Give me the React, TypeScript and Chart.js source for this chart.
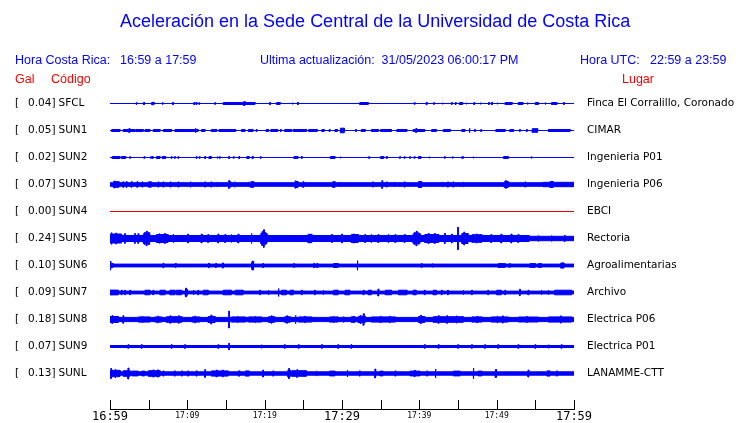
import React, { useEffect, useRef } from 'react';
import { Chart, registerables } from 'chart.js';

Chart.register(...registerables);

// ---------------- data ----------------
const TITLE = 'Aceleración en la Sede Central de la Universidad de Costa Rica';
const HEADER_LOCAL = ['Hora Costa Rica:', '16:59 a 17:59'];
const HEADER_UPDATE = 'Ultima actualización:  31/05/2023 06:00:17 PM';
const HEADER_UTC = ['Hora UTC:', '22:59 a 23:59'];
const COLUMN_HEADS = ['Gal', 'Código', 'Lugar'];

const stationCodes = ['SFCL', 'SUN1', 'SUN2', 'SUN3', 'SUN4', 'SUN5', 'SUN6', 'SUN7', 'SUN8', 'SUN9', 'SUNL'];
const peakGal = ['0.04', '0.05', '0.02', '0.07', '0.00', '0.24', '0.10', '0.09', '0.18', '0.07', '0.13'];
const places = [
  'Finca El Corralillo, Coronado', 'CIMAR', 'Ingenieria P01', 'Ingenieria P06', 'EBCI', 'Rectoria',
  'Agroalimentarias', 'Archivo', 'Electrica P06', 'Electrica P01', 'LANAMME-CTT',
];

// time axis: minutes after 16:59
const tickMinutes = [0, 5, 10, 15, 20, 25, 30, 35, 40, 45, 50, 55, 60];
const tickLabels = ['16:59', '', '17:09', '', '17:19', '', '17:29', '', '17:39', '', '17:49', '', '17:59'];
const majorLabels = ['16:59', '17:29', '17:59'];

// trace envelopes: steady half-amplitude, then events [startMin, endMin, halfAmplitude]
type Ev = [number, number, number];
const baseAmp = [0, 0, 0, 1.8, 0, 2.2, 1.4, 1.4, 2.1, 1.0, 1.7];

const sfclEv: Ev[] = [
  [3.45, 3.45, 0.8], [4.4, 4.4, 1.2], [5.4, 5.7, 1.2], [6.8, 6.8, 1.2], [8.15, 8.15, 1.2], [10.9, 10.9, 1.2],
  [11.2, 11.2, 1.0], [11.55, 11.55, 0.8], [13.6, 13.6, 0.8], [14.65, 18.75, 1.0], [17.3, 17.45, 2.0],
  [20.7, 20.7, 1.2], [21.55, 22.0, 1.0], [23.6, 23.6, 0.8], [24.3, 24.3, 1.2], [32.3, 33.4, 1.0],
  [39.4, 39.4, 0.8], [40.9, 41.0, 1.2], [41.9, 41.9, 0.8], [43.0, 43.0, 0.8], [44.2, 44.2, 1.0],
  [44.7, 44.7, 1.0], [45.2, 45.6, 1.0], [46.1, 46.1, 0.8], [47.1, 47.1, 1.0], [47.9, 47.9, 0.8],
  [49.0, 49.0, 1.0], [49.4, 49.4, 1.2], [50.1, 50.1, 0.8], [51.1, 52.0, 1.0], [52.8, 53.4, 1.0],
  [54.0, 54.0, 1.0], [55.0, 55.4, 1.0], [56.3, 56.3, 1.0], [57.1, 57.8, 1.0], [58.7, 58.7, 1.0],
];
const sun1Ev: Ev[] = [
  [0.22, 1.29, 1.0], [1.72, 3.23, 1.0], [2.5, 2.5, 2.0], [3.36, 4.31, 1.0], [4.53, 5.17, 1.0], [5.6, 6.47, 1.0],
  [6.9, 7.97, 1.0], [8.4, 11.4, 1.0], [11.07, 11.07, 2.2], [11.85, 12.28, 1.0], [13.1, 13.8, 1.0],
  [14.1, 16.25, 1.0], [17.0, 17.45, 1.0], [17.9, 18.5, 1.0], [18.96, 18.96, 1.0], [20.2, 20.5, 1.0],
  [20.8, 21.7, 1.0], [22.1, 22.1, 1.0], [22.6, 23.5, 1.0], [23.7, 25.4, 1.0], [25.7, 26.8, 1.0],
  [27.4, 27.7, 1.0], [28.4, 28.4, 1.0], [29.1, 29.4, 1.0], [29.8, 30.3, 2.3], [31.8, 31.8, 1.0],
  [32.5, 33.0, 1.0], [33.8, 34.7, 1.0], [35.0, 36.4, 1.0], [37.1, 38.4, 1.0], [39.2, 40.7, 1.0],
  [39.6, 39.6, 2.0], [41.6, 42.2, 1.0], [43.1, 44.0, 1.0], [45.5, 45.9, 1.0], [46.5, 46.5, 2.2],
  [47.2, 47.2, 1.0], [48.0, 48.0, 1.0], [49.9, 51.1, 1.0], [51.7, 52.2, 1.0], [53.0, 53.0, 1.0],
  [53.9, 53.9, 1.0], [54.6, 55.3, 1.8], [56.7, 59.5, 1.0],
];
const sun2Ev: Ev[] = [
  [0.3, 1.29, 1.0], [1.51, 2.03, 1.0], [2.6, 2.6, 0.8], [4.44, 4.44, 0.8], [5.3, 5.3, 0.8], [5.52, 5.52, 1.0],
  [6.03, 6.47, 1.0], [6.77, 7.2, 1.0], [7.97, 7.97, 0.8], [8.4, 8.4, 0.8], [8.84, 8.84, 0.8], [11.2, 11.2, 0.8],
  [11.6, 11.6, 0.8], [12.3, 12.3, 1.0], [12.8, 13.1, 1.0], [13.9, 13.9, 1.0], [14.2, 14.2, 0.8],
  [15.4, 15.4, 1.0], [16.0, 16.0, 0.8], [16.7, 16.7, 1.0], [17.7, 18.0, 1.0], [18.45, 18.45, 1.2],
  [19.5, 19.5, 0.8], [23.8, 24.3, 1.0], [24.8, 24.8, 1.0], [28.5, 29.1, 1.0], [29.8, 29.8, 0.8],
  [33.5, 33.5, 0.8], [35.0, 35.4, 1.0], [35.8, 35.8, 1.0], [37.5, 37.5, 0.8], [38.1, 38.1, 0.8],
  [38.8, 38.8, 0.8], [39.4, 39.4, 0.8], [39.9, 40.2, 1.0], [41.3, 41.3, 0.8], [43.3, 43.3, 0.8],
  [44.3, 44.3, 1.0], [45.5, 45.7, 0.8], [47.0, 47.0, 0.8], [50.9, 51.5, 1.0], [54.5, 54.5, 1.0],
];
const sun3Ev: Ev[] = [
  [0.43, 1.16, 2.8], [0.6, 0.6, 3.5], [1.72, 1.72, 2.8], [2.15, 2.15, 2.8], [2.8, 2.8, 2.8], [3.53, 3.53, 2.8],
  [4.18, 4.18, 2.6], [4.96, 5.39, 2.6], [5.1, 5.1, 3.2], [6.25, 6.25, 2.6], [6.9, 6.9, 2.6], [7.84, 7.84, 2.6],
  [8.84, 8.84, 2.6], [10.4, 10.4, 2.8], [12.3, 12.3, 2.6], [13.1, 13.1, 2.6], [13.9, 13.9, 2.6],
  [15.3, 15.6, 2.8], [15.4, 15.4, 3.8], [16.1, 16.1, 2.8], [17.9, 17.9, 2.6], [18.2, 18.6, 2.8],
  [23.9, 24.3, 3.0], [24.0, 24.0, 4.0], [25.0, 25.0, 2.8], [28.8, 29.1, 2.8], [29.8, 29.8, 2.6],
  [34.0, 34.0, 2.6], [35.2, 35.2, 3.8], [35.8, 35.8, 2.6], [36.8, 36.8, 2.6], [38.1, 38.1, 2.6],
  [39.9, 40.3, 3.0], [43.0, 43.0, 2.6], [43.7, 43.7, 2.6], [44.4, 44.4, 2.6], [45.7, 45.7, 2.6],
  [51.0, 51.5, 3.0], [51.2, 51.2, 3.8], [53.7, 53.7, 2.6], [56.9, 57.3, 3.0], [56.0, 60, 2.2],
];
const sun5Ev: Ev[] = [
  [0, 54.2, 3.0], [0, 1.5, 4.5], [0.2, 0.2, 6.0], [0.8, 0.8, 5.5], [1.94, 1.94, 4.8], [3.23, 3.23, 4.8],
  [3.66, 3.66, 4.8], [4.31, 5.17, 4.8], [4.5, 4.5, 6.0], [4.7, 4.8, 7.3], [5.0, 5.0, 6.0], [6.0, 7.5, 4.0],
  [6.4, 6.4, 5.0], [7.1, 7.1, 5.0], [8.2, 8.2, 4.5], [10.1, 10.1, 4.5], [11.85, 11.85, 4.5],
  [12.7, 12.7, 4.0], [14.0, 14.0, 4.5], [14.9, 14.9, 4.0], [15.7, 15.7, 4.0], [16.6, 16.6, 4.5],
  [18.3, 18.3, 5.0], [19.5, 20.3, 5.0], [19.7, 19.7, 7.0], [19.85, 19.95, 8.8], [20.1, 20.1, 6.5],
  [25.6, 26.1, 4.2], [28.7, 28.7, 4.0], [30.0, 30.0, 4.5], [31.2, 32.1, 4.0], [31.5, 31.5, 4.8],
  [33.0, 33.0, 4.0], [33.8, 33.8, 4.5], [34.7, 34.7, 4.0], [36.0, 36.0, 4.5], [36.9, 36.9, 4.0],
  [38.1, 38.1, 4.0], [39.2, 40.1, 4.8], [39.4, 39.4, 6.0], [39.6, 39.7, 7.3], [39.9, 39.9, 6.0],
  [40.7, 42.5, 4.0], [41.2, 41.2, 5.0], [42.0, 42.0, 5.0], [43.3, 43.3, 5.0], [44.2, 44.2, 4.5],
  [45.0, 45.0, 11.2], [45.5, 46.3, 5.0], [45.8, 45.8, 6.5], [46.8, 48.1, 3.8], [47.4, 47.4, 4.8],
  [49.3, 49.3, 4.0], [50.6, 50.6, 4.5], [51.9, 51.9, 4.5], [52.8, 52.8, 4.0], [55.4, 55.4, 3.0],
  [57.1, 57.1, 3.0], [58.8, 58.8, 3.0],
];
const sun6Ev: Ev[] = [
  [0, 0.1, 4.5], [0.1, 0.4, 2.0], [6.9, 6.9, 2.2], [8.5, 8.5, 2.0], [12.8, 12.8, 2.2], [13.7, 13.7, 2.0],
  [14.6, 14.6, 2.6], [18.3, 18.6, 3.2], [18.45, 18.45, 4.5], [19.8, 19.8, 2.0], [23.8, 23.8, 2.0],
  [26.4, 26.4, 2.2], [26.8, 26.8, 2.2], [28.9, 29.5, 2.0], [32.0, 32.0, 4.8], [40.3, 40.3, 1.9],
  [41.7, 41.7, 1.9], [50.2, 51.1, 1.9], [51.7, 51.7, 1.9], [54.3, 55.0, 1.9], [55.4, 55.8, 1.9],
  [58.3, 58.7, 2.6],
];
const sun7Ev: Ev[] = [
  [0, 1.08, 2.4], [1.51, 1.51, 2.3], [1.94, 1.94, 2.3], [2.6, 2.6, 2.3], [4.53, 5.17, 2.3], [5.6, 5.6, 2.3],
  [6.47, 7.11, 2.3], [7.76, 8.4, 2.3], [8.6, 9.27, 2.3], [9.7, 10.0, 3.0], [9.85, 9.85, 4.3],
  [10.8, 10.8, 2.3], [11.4, 11.4, 2.3], [12.07, 12.7, 2.3], [14.65, 15.7, 2.3], [16.2, 17.2, 2.3],
  [19.4, 19.4, 2.3], [20.5, 20.5, 2.3], [21.8, 21.8, 4.0], [22.2, 22.8, 2.3], [23.3, 23.7, 2.3],
  [24.8, 24.8, 2.3], [26.5, 26.5, 2.3], [27.6, 27.6, 2.3], [28.9, 29.5, 2.3], [30.4, 31.0, 2.3],
  [32.8, 32.8, 2.3], [33.4, 33.8, 2.3], [34.7, 34.7, 3.5], [35.6, 36.4, 2.3], [37.3, 38.4, 2.3],
  [39.2, 39.6, 2.3], [40.7, 40.7, 2.3], [41.8, 42.2, 2.3], [42.9, 42.9, 2.3], [43.7, 43.7, 2.3],
  [45.7, 45.7, 2.3], [46.8, 46.8, 2.3], [48.9, 48.9, 2.3], [50.0, 50.6, 2.3], [51.1, 51.1, 2.3],
  [53.0, 53.0, 3.2], [54.1, 54.1, 2.3], [55.8, 55.8, 2.3], [56.7, 56.7, 2.3], [57.5, 59.7, 2.3],
];
const sun8Ev: Ev[] = [
  [0, 1.08, 3.0], [0.3, 0.3, 3.8], [1.72, 1.72, 3.7], [3.66, 5.17, 2.6], [4.2, 4.2, 3.4], [5.8, 6.7, 2.6],
  [6.2, 6.2, 3.4], [7.3, 9.3, 2.8], [7.8, 7.8, 3.7], [8.9, 8.9, 3.7], [10.6, 11.6, 2.6], [11.0, 11.0, 3.4],
  [12.7, 13.6, 3.0], [13.1, 13.1, 4.5], [15.4, 15.4, 8.5], [15.7, 17.5, 2.6], [16.5, 16.5, 3.4],
  [17.9, 19.6, 2.6], [18.8, 18.8, 3.4], [20.5, 21.3, 2.8], [20.9, 20.9, 3.7], [22.6, 23.3, 2.8],
  [22.9, 22.9, 3.7], [24.0, 24.0, 4.2], [24.4, 26.1, 2.6], [25.2, 25.2, 3.2], [28.4, 29.5, 2.6],
  [28.9, 28.9, 3.5], [30.2, 30.2, 3.0], [31.2, 31.7, 2.8], [31.5, 31.5, 3.5], [32.1, 33.0, 3.2],
  [32.4, 32.4, 4.5], [32.8, 32.8, 5.8], [33.8, 36.9, 2.6], [35.0, 35.0, 3.2], [36.2, 36.2, 3.2],
  [39.9, 40.7, 3.0], [40.2, 40.2, 4.2], [41.8, 45.7, 2.8], [42.5, 42.5, 3.8], [43.6, 43.6, 3.8],
  [44.8, 44.8, 3.8], [46.8, 48.1, 2.6], [47.5, 47.5, 3.2], [49.3, 51.5, 2.6], [50.1, 50.1, 3.6],
  [50.8, 50.8, 3.6], [52.8, 55.4, 2.5], [53.9, 53.9, 3.0], [56.7, 59.7, 2.6], [58.3, 58.3, 3.6],
];
const sun9Ev: Ev[] = [
  [2.37, 2.37, 1.8], [4.1, 4.1, 1.8], [7.97, 7.97, 1.8], [9.7, 9.7, 1.8], [14.0, 14.0, 1.8], [15.4, 15.4, 3.2],
  [19.6, 19.6, 1.8], [22.6, 22.6, 1.8], [24.4, 24.4, 1.8], [27.4, 27.4, 1.8], [29.5, 29.5, 1.8],
  [31.2, 31.2, 1.8], [40.7, 40.7, 1.8], [42.5, 42.5, 1.8], [45.0, 45.0, 1.8], [46.8, 46.8, 1.8],
  [48.5, 48.5, 1.8], [50.2, 50.2, 1.8], [52.8, 52.8, 1.8], [55.0, 55.0, 1.8], [56.7, 56.7, 1.8],
  [58.4, 58.4, 1.8],
];
const sunlEv: Ev[] = [
  [0, 1.29, 3.2], [0.15, 0.15, 5.0], [0.7, 0.7, 4.5], [1.72, 2.6, 2.8], [2.37, 2.37, 5.5], [2.8, 3.66, 2.4],
  [4.1, 4.5, 2.4], [4.96, 6.47, 2.8], [5.6, 5.6, 3.6], [6.2, 6.2, 3.6], [6.9, 6.9, 2.6], [8.4, 8.4, 2.6],
  [9.3, 9.3, 2.6], [10.1, 10.1, 2.6], [11.2, 11.2, 2.6], [12.3, 12.3, 3.8], [13.1, 15.3, 2.6],
  [13.8, 13.8, 3.5], [14.6, 14.6, 3.5], [16.6, 16.8, 2.6], [17.5, 18.0, 2.6], [19.8, 19.8, 3.5],
  [21.1, 21.1, 2.6], [23.0, 23.3, 3.5], [23.15, 23.15, 5.0], [23.5, 25.4, 2.8], [24.2, 24.2, 3.8],
  [26.7, 26.7, 2.6], [28.4, 29.1, 2.4], [30.7, 30.7, 3.5], [32.3, 32.3, 2.6], [34.3, 34.3, 4.5],
  [34.9, 35.3, 2.4], [36.9, 36.9, 2.6], [38.8, 40.1, 2.4], [39.4, 39.4, 3.2], [41.0, 41.0, 2.6],
  [42.1, 42.1, 4.5], [44.4, 45.3, 2.4], [47.0, 47.0, 5.5], [47.6, 48.1, 2.4], [49.8, 50.0, 3.2],
  [49.9, 49.9, 4.0], [54.1, 54.1, 3.5], [56.5, 56.9, 2.6], [57.8, 57.8, 2.6],
];
const traceEvents: (Ev[] | null)[] = [
  sfclEv, sun1Ev, sun2Ev, sun3Ev, null, sun5Ev, sun6Ev, sun7Ev, sun8Ev, sun9Ev, sunlEv,
];

// ---------------- helpers ----------------
const SPAN_MIN = 60;
const AMP_PER_TRACE = 27; // amplitude units per trace slot
const SPIKE_WIDTH = 0.1;
const BLUE = '#0000ff';
const RED = '#ff0000';
const TRACE_RED = '#dd0000';

function envelope(base: number, evs: Ev[]) {
  const spans = evs.map(([a, b, amp]) =>
    b > a ? [a, b, amp] : [a - SPIKE_WIDTH / 2, a + SPIKE_WIDTH / 2, amp],
  ).map(([a, b, amp]) => [Math.max(0, a), Math.min(SPAN_MIN, b), amp]);
  const bounds = Array.from(new Set([0, SPAN_MIN, ...spans.flatMap((s) => [s[0], s[1]])])).sort((p, q) => p - q);
  const pts: { x: number; a: number }[] = [];
  for (let k = 0; k < bounds.length - 1; k++) {
    const a = bounds[k];
    const b = bounds[k + 1];
    if (b - a < 1e-9) continue;
    const m = (a + b) / 2;
    let amp = base;
    for (const s of spans) if (m >= s[0] && m <= s[1]) amp = Math.max(amp, s[2]);
    pts.push({ x: a, a: amp }, { x: b, a: amp });
  }
  return pts;
}

function buildDatasets() {
  const ds: any[] = [];
  traceEvents.forEach((evs, i) => {
    const center = -i;
    if (!evs) {
      ds.push({
        data: [{ x: 0, y: center }, { x: SPAN_MIN, y: center }],
        borderColor: TRACE_RED, borderWidth: 1, pointRadius: 0, fill: false,
      });
      return;
    }
    const env = envelope(baseAmp[i], evs);
    ds.push({
      data: env.map((p) => ({ x: p.x, y: center + p.a / AMP_PER_TRACE })),
      borderColor: BLUE, backgroundColor: BLUE, borderWidth: 1, pointRadius: 0, fill: '+1',
    });
    ds.push({
      data: env.map((p) => ({ x: p.x, y: center - p.a / AMP_PER_TRACE })),
      borderColor: BLUE, backgroundColor: BLUE, borderWidth: 1, pointRadius: 0, fill: false,
    });
  });
  return ds;
}

const textPlugin = {
  id: 'seismoText',
  afterDraw(chart: any) {
    const { ctx } = chart;
    const xs = chart.scales.x;
    const ys = chart.scales.y;
    ctx.save();
    ctx.textBaseline = 'middle';
    ctx.textAlign = 'left';

    // title + header
    ctx.fillStyle = BLUE;
    ctx.font = '18px "Liberation Sans", Arial, sans-serif';
    ctx.fillText(TITLE, 120, 22);
    ctx.font = '12.5px "Liberation Sans", Arial, sans-serif';
    ctx.fillText(HEADER_LOCAL[0], 15, 61);
    ctx.fillText(HEADER_LOCAL[1], 120, 61);
    ctx.fillText(HEADER_UPDATE, 260, 61);
    ctx.fillText(HEADER_UTC[0], 580, 61);
    ctx.fillText(HEADER_UTC[1], 650, 61);
    ctx.fillStyle = RED;
    ctx.fillText(COLUMN_HEADS[0], 15, 80);
    ctx.fillText(COLUMN_HEADS[1], 51, 80);
    ctx.fillText(COLUMN_HEADS[2], 622, 80);

    // station labels
    ctx.fillStyle = '#000000';
    ctx.font = '10.5px "DejaVu Sans", sans-serif';
    stationCodes.forEach((code, i) => {
      const y = Math.round(ys.getPixelForValue(-i)) - 0.5;
      ctx.textAlign = 'left';
      ctx.fillText('[', 15, y);
      ctx.textAlign = 'right';
      ctx.fillText(peakGal[i] + ']', 55.5, y);
      ctx.textAlign = 'left';
      ctx.fillText(code, 58.5, y);
      ctx.fillText(places[i], 587, y);
    });

    // time axis
    const axisY = 409.5;
    const tickTop = 400;
    ctx.strokeStyle = '#000000';
    ctx.lineWidth = 1;
    ctx.beginPath();
    ctx.moveTo(Math.round(xs.getPixelForValue(0)), axisY);
    ctx.lineTo(Math.round(xs.getPixelForValue(SPAN_MIN)) + 1, axisY);
    tickMinutes.forEach((m) => {
      const px = Math.round(xs.getPixelForValue(m)) + 0.5;
      ctx.moveTo(px, tickTop);
      ctx.lineTo(px, axisY);
    });
    ctx.stroke();
    ctx.fillStyle = '#000000';
    ctx.textAlign = 'center';
    tickMinutes.forEach((m, k) => {
      const label = tickLabels[k];
      if (!label) return;
      const major = majorLabels.includes(label);
      ctx.font = major ? '12px "DejaVu Sans Mono", monospace' : '8px "DejaVu Sans Mono", monospace';
      ctx.fillText(label, xs.getPixelForValue(m), major ? 416.5 : 416);
    });
    ctx.restore();
  },
};

export default function App() {
  const ref = useRef<HTMLCanvasElement | null>(null);
  useEffect(() => {
    if (!ref.current) return;
    const chart = new Chart(ref.current, {
      type: 'line',
      data: { datasets: buildDatasets() },
      options: {
        responsive: false,
        animation: false,
        devicePixelRatio: 1,
        layout: { padding: { left: 110, right: 166, top: 76.5, bottom: 22.5 } },
        elements: { line: { tension: 0 }, point: { radius: 0 } },
        scales: {
          x: { type: 'linear', min: 0, max: SPAN_MIN, display: false },
          y: { type: 'linear', min: -11, max: 1, display: false },
        },
        plugins: { legend: { display: false }, tooltip: { enabled: false } },
      },
      plugins: [textPlugin],
    });
    return () => chart.destroy();
  }, []);
  return (
    <div style={{ position: 'fixed', left: 0, top: 0, width: 740, height: 423, background: '#ffffff' }}>
      <canvas ref={ref} width={740} height={423} />
    </div>
  );
}
